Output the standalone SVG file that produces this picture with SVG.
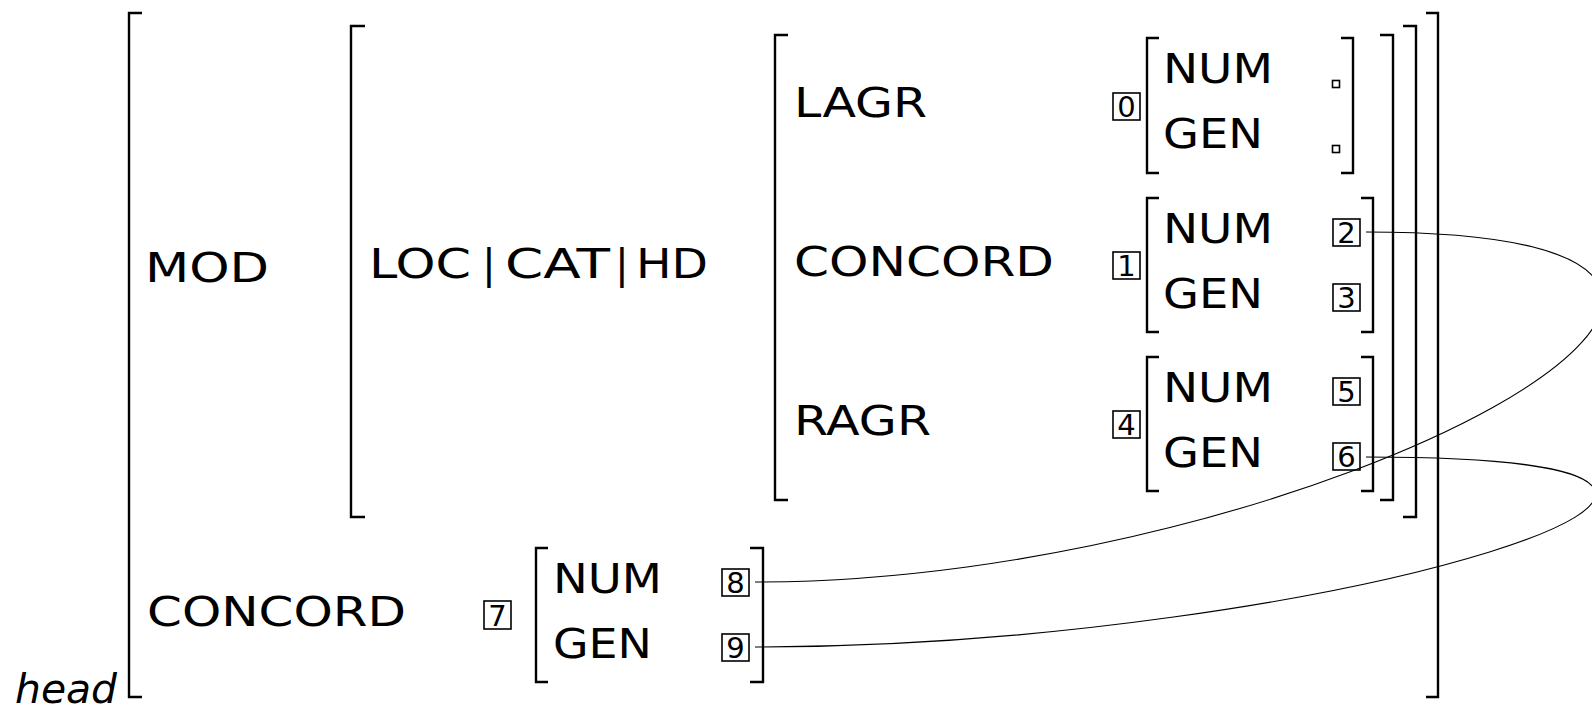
<svg xmlns="http://www.w3.org/2000/svg" width="1592" height="709" viewBox="0 0 1592 709">
  <style>
    .br { fill: none; stroke: #000; stroke-width: 2.4; stroke-linecap: butt; stroke-linejoin: miter; }
    .lbl { font-family: "DejaVu Sans", "Liberation Sans", sans-serif; font-size: 41px; fill: #000; }
    .it { font-family: "DejaVu Sans", "Liberation Sans", sans-serif; font-size: 40px; font-style: italic; fill: #000; }
    .tag rect { fill: none; stroke: #000; stroke-width: 1.6; }
    .tag text { font-family: "DejaVu Sans", "Liberation Sans", sans-serif; font-size: 29px; fill: #000; text-anchor: middle; }
    .empty { fill: none; stroke: #000; stroke-width: 1.6; }
    .link { fill: none; stroke: #000; stroke-width: 1.1; }
  </style>
  <rect width="1592" height="709" fill="#fff"/>

  <!-- outer feature structure -->
  <g id="outer">
    <path class="br" d="M142,13 H129 V697 H142"/>
    <path class="br" d="M1426,13 H1438 V697 H1426"/>
    <text class="it" x="15" y="703" textLength="102" lengthAdjust="spacingAndGlyphs">head</text>
    <text class="lbl" x="145" y="282" textLength="124" lengthAdjust="spacingAndGlyphs">MOD</text>
    <text class="lbl" x="147" y="626" textLength="259" lengthAdjust="spacingAndGlyphs">CONCORD</text>
  </g>

  <!-- MOD value -->
  <g id="mod-value">
    <path class="br" d="M365,26 H351 V517 H365"/>
    <path class="br" d="M1403,26 H1416 V517 H1403"/>
    <text class="lbl" y="278"><tspan x="369" textLength="102" lengthAdjust="spacingAndGlyphs">LOC</tspan><tspan x="482">|</tspan><tspan x="505" textLength="105" lengthAdjust="spacingAndGlyphs">CAT</tspan><tspan x="615">|</tspan><tspan x="636" textLength="72" lengthAdjust="spacingAndGlyphs">HD</tspan></text>
  </g>

  <!-- LOC|CAT|HD value -->
  <g id="head-value">
    <path class="br" d="M788,35 H775 V500 H788"/>
    <path class="br" d="M1380,35 H1393 V500 H1380"/>
    <text class="lbl" x="794" y="117" textLength="133" lengthAdjust="spacingAndGlyphs">LAGR</text>
    <text class="lbl" x="794" y="276" textLength="260" lengthAdjust="spacingAndGlyphs">CONCORD</text>
    <text class="lbl" x="794" y="435" textLength="137" lengthAdjust="spacingAndGlyphs">RAGR</text>
  </g>

  <!-- LAGR: tag 0 -->
  <g id="lagr">
    <g class="tag"><rect x="1113" y="93" width="27" height="27"/><text x="1126.5" y="117">0</text></g>
    <path class="br" d="M1159,38 H1147 V173 H1159"/>
    <path class="br" d="M1341,38 H1353 V173 H1341"/>
    <text class="lbl" x="1163" y="83" textLength="110" lengthAdjust="spacingAndGlyphs">NUM</text>
    <text class="lbl" x="1163" y="148" textLength="100" lengthAdjust="spacingAndGlyphs">GEN</text>
    <rect class="empty" x="1332.5" y="80.5" width="7" height="7"/>
    <rect class="empty" x="1332.5" y="145.5" width="7" height="7"/>
  </g>

  <!-- CONCORD: tag 1 -->
  <g id="concord-inner">
    <g class="tag"><rect x="1113" y="252" width="27" height="27"/><text x="1126.5" y="276">1</text></g>
    <path class="br" d="M1159,198 H1147 V332 H1159"/>
    <path class="br" d="M1361,198 H1373 V332 H1361"/>
    <text class="lbl" x="1163" y="243" textLength="110" lengthAdjust="spacingAndGlyphs">NUM</text>
    <text class="lbl" x="1163" y="308" textLength="100" lengthAdjust="spacingAndGlyphs">GEN</text>
    <g class="tag"><rect x="1333" y="219" width="27" height="27"/><text x="1346.5" y="243">2</text></g>
    <g class="tag"><rect x="1333" y="284" width="27" height="27"/><text x="1346.5" y="308">3</text></g>
  </g>

  <!-- RAGR: tag 4 -->
  <g id="ragr">
    <g class="tag"><rect x="1113" y="411" width="27" height="27"/><text x="1126.5" y="435">4</text></g>
    <path class="br" d="M1159,357 H1147 V491 H1159"/>
    <path class="br" d="M1361,357 H1373 V491 H1361"/>
    <text class="lbl" x="1163" y="402" textLength="110" lengthAdjust="spacingAndGlyphs">NUM</text>
    <text class="lbl" x="1163" y="467" textLength="100" lengthAdjust="spacingAndGlyphs">GEN</text>
    <g class="tag"><rect x="1333" y="378" width="27" height="27"/><text x="1346.5" y="402">5</text></g>
    <g class="tag"><rect x="1333" y="443" width="27" height="27"/><text x="1346.5" y="467">6</text></g>
  </g>

  <!-- outer CONCORD value: tag 7 -->
  <g id="concord-outer">
    <g class="tag"><rect x="484" y="601" width="27" height="28"/><text x="497.5" y="625.5">7</text></g>
    <path class="br" d="M548,548 H536 V682 H548"/>
    <path class="br" d="M750,548 H763 V682 H750"/>
    <text class="lbl" x="553" y="593" textLength="109" lengthAdjust="spacingAndGlyphs">NUM</text>
    <text class="lbl" x="553" y="658" textLength="99" lengthAdjust="spacingAndGlyphs">GEN</text>
    <g class="tag"><rect x="722" y="569" width="27" height="27"/><text x="735.5" y="593">8</text></g>
    <g class="tag"><rect x="722" y="634" width="27" height="27"/><text x="735.5" y="658">9</text></g>
  </g>

  <!-- structure-sharing links -->
  <g id="connectors">
    <path class="link" d="M1366,232 C1959,232 1317,582 755,582"/>
    <path class="link" d="M1366,457 C1940,457 1325,647 755,647"/>
  </g>
</svg>
